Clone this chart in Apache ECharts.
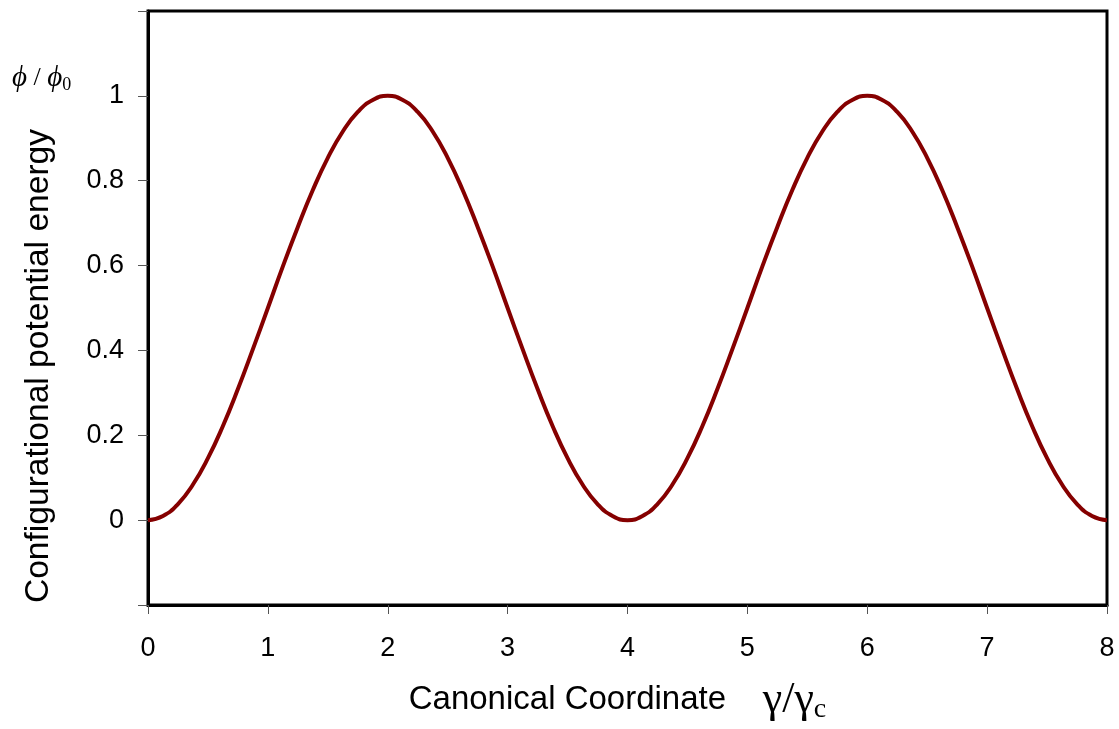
<!DOCTYPE html>
<html>
<head>
<meta charset="utf-8">
<script src="https://cdn.jsdelivr.net/npm/echarts@6/dist/echarts.min.js"></script>
<style>html,body{margin:0;padding:0;background:#fff;}#c{width:1119px;height:729px;}</style>
</head>
<body>
<div id="c"></div>
<script>
// Canonical coordinate gamma/gamma_c (x) and potential phi/phi0 (y)
const xValues = [
  0, 0.125, 0.25, 0.375, 0.5, 0.625, 0.75, 0.875,
  1, 1.125, 1.25, 1.375, 1.5, 1.625, 1.75, 1.875,
  2, 2.125, 2.25, 2.375, 2.5, 2.625, 2.75, 2.875,
  3, 3.125, 3.25, 3.375, 3.5, 3.625, 3.75, 3.875,
  4, 4.125, 4.25, 4.375, 4.5, 4.625, 4.75, 4.875,
  5, 5.125, 5.25, 5.375, 5.5, 5.625, 5.75, 5.875,
  6, 6.125, 6.25, 6.375, 6.5, 6.625, 6.75, 6.875,
  7, 7.125, 7.25, 7.375, 7.5, 7.625, 7.75, 7.875, 8
];
const yValues = [
  0, 0.010, 0.038, 0.084, 0.146, 0.222, 0.309, 0.403,
  0.5, 0.598, 0.691, 0.778, 0.854, 0.916, 0.962, 0.990,
  1, 0.990, 0.962, 0.916, 0.854, 0.778, 0.691, 0.598,
  0.5, 0.403, 0.309, 0.222, 0.146, 0.084, 0.038, 0.010,
  0, 0.010, 0.038, 0.084, 0.146, 0.222, 0.309, 0.403,
  0.5, 0.598, 0.691, 0.778, 0.854, 0.916, 0.962, 0.990,
  1, 0.990, 0.962, 0.916, 0.854, 0.778, 0.691, 0.598,
  0.5, 0.403, 0.309, 0.222, 0.146, 0.084, 0.038, 0.010, 0
];
const xTickLabels = ['0','1','2','3','4','5','6','7','8'];
const yTickLabels = ['', '0', '0.2', '0.4', '0.6', '0.8', '1', ''];

const seriesData = xValues.map((x, i) => [x, yValues[i]]);
const sans = 'Liberation Sans, Arial, sans-serif';
const serif = 'Liberation Serif, Times New Roman, serif';

const chart = echarts.init(document.getElementById('c'), null, {renderer: 'canvas'});
chart.setOption({
  backgroundColor: '#fff',
  animation: false,
  grid: {left: 148, right: 12, top: 11, bottom: 118, show: true, borderColor: '#000', borderWidth: 3, containLabel: false},
  xAxis: {
    type: 'value', min: 0, max: 8, interval: 1,
    axisLine: {show: true, onZero: false, lineStyle: {color: '#000', width: 3}},
    axisTick: {show: true, length: 9, lineStyle: {color: '#555', width: 1}},
    splitLine: {show: false},
    axisLabel: {margin: 30, fontSize: 27, color: '#000', fontFamily: sans,
      formatter: v => xTickLabels[Math.round(v)] ?? ''},
    name: 'Canonical Coordinate    {g|γ/γ}{s|c}',
    nameLocation: 'middle', nameGap: 71,
    nameTextStyle: {fontSize: 33, color: '#000', fontFamily: sans, lineHeight: 48, padding: [0, 20, 0, 0],
      rich: {
        g: {fontSize: 44, fontFamily: serif, color: '#000', lineHeight: 48},
        s: {fontSize: 28, fontFamily: serif, color: '#000', verticalAlign: 'bottom', lineHeight: 24}
      }}
  },
  yAxis: {
    type: 'value', min: -0.2, max: 1.2, interval: 0.2,
    axisLine: {show: true, onZero: false, lineStyle: {color: '#000', width: 3}},
    axisTick: {show: true, length: 10, lineStyle: {color: '#555', width: 1}},
    splitLine: {show: false},
    axisLabel: {margin: 24, fontSize: 27, color: '#000', fontFamily: sans,
      formatter: v => yTickLabels[Math.round((v + 0.2) / 0.2)] ?? ''},
    name: 'Configurational potential energy',
    nameLocation: 'middle', nameGap: 92,
    nameTextStyle: {fontSize: 33.6, color: '#000', fontFamily: sans, padding: [0, 116, 0, 0]}
  },
  graphic: [{
    type: 'text', left: 12, top: 64,
    style: {
      text: '{p|ϕ} / {p|ϕ}{s|0}',
      fill: '#000',
      font: '26px ' + serif,
      rich: {
        p: {fontSize: 29, fontStyle: 'italic', fontFamily: serif, lineHeight: 32},
        s: {fontSize: 18, fontFamily: serif, verticalAlign: 'bottom', lineHeight: 18}
      }
    }
  }],
  series: [{
    type: 'line', data: seriesData, smooth: true, showSymbol: false,
    lineStyle: {color: '#850000', width: 4}, clip: false
  }]
});
</script>
</body>
</html>
